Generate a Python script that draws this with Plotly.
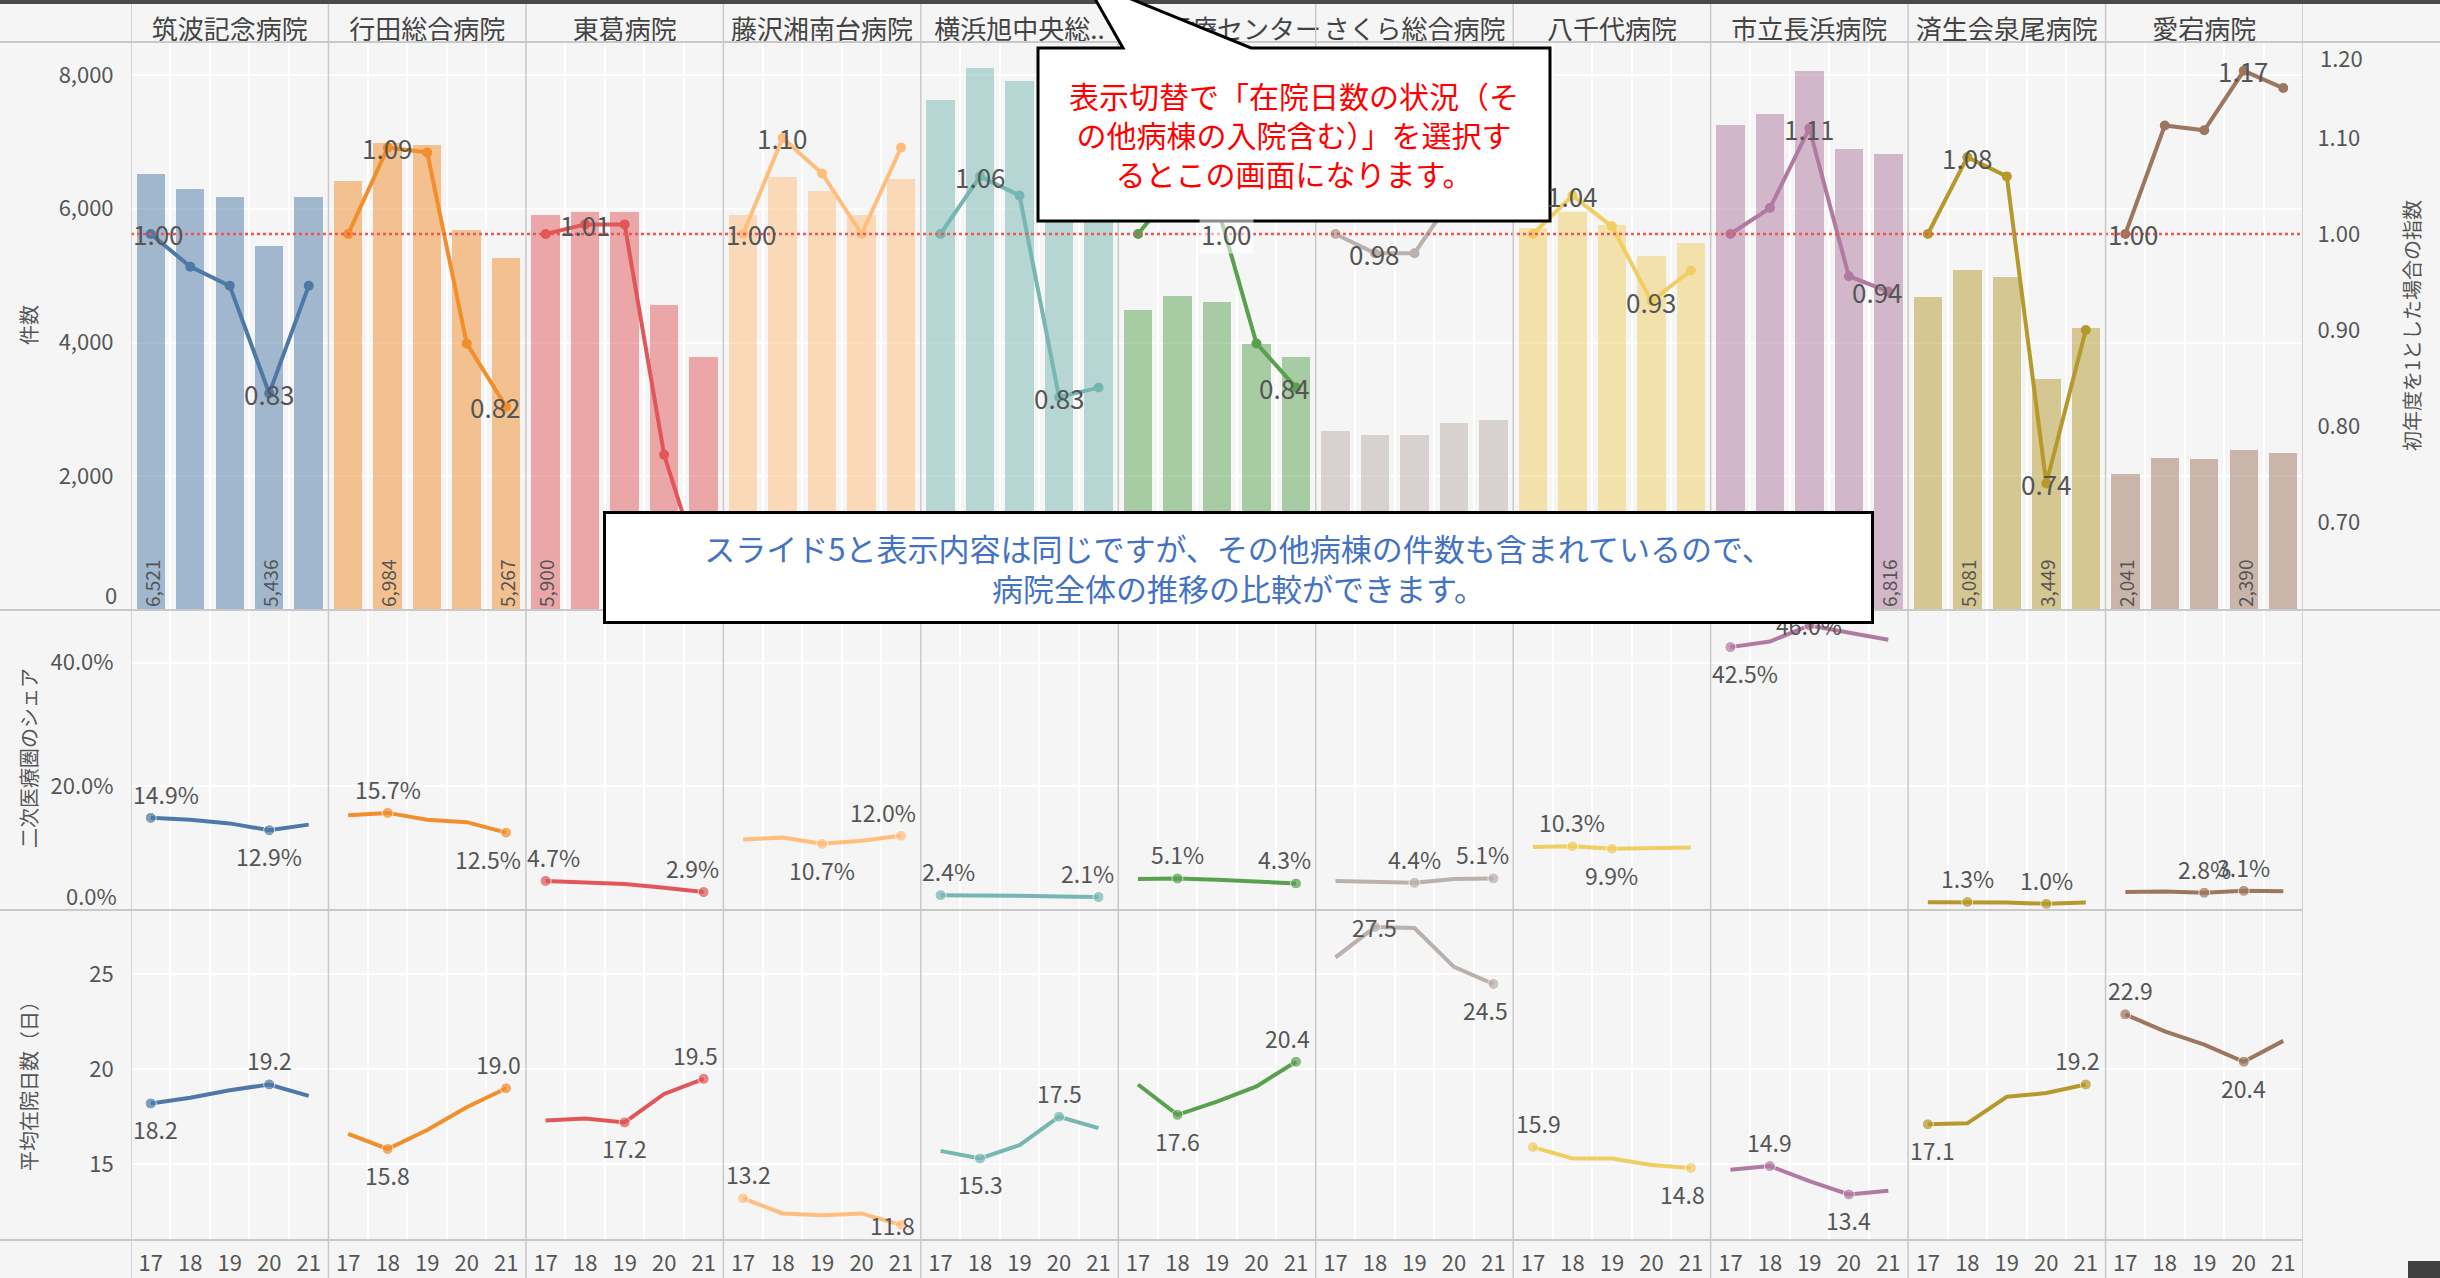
import plotly.graph_objects as go
from plotly.subplots import make_subplots

# ---------------- data ----------------
HOSPITALS = ["筑波記念病院", "行田総合病院", "東葛病院", "藤沢湘南台病院", "横浜旭中央総..",
             "横浜医療センター", "さくら総合病院", "八千代病院", "市立長浜病院", "済生会泉尾病院", "愛宕病院"]
YEARS = ["17", "18", "19", "20", "21"]
COLORS = ["#4E79A7", "#F28E2B", "#E15759", "#FFBE7D", "#76B7B2", "#59A14F",
          "#BAB0AC", "#F1CE63", "#B07AA1", "#B6992D", "#9D7660"]

# 件数 (bars)
CASES = [
    [6521, 6300, 6170, 5436, 6170],
    [6410, 6984, 6950, 5680, 5267],
    [5900, 5950, 5950, 4560, 3780],
    [5900, 6480, 6270, 5900, 6440],
    [7620, 8110, 7910, 6320, 6400],
    [4480, 4700, 4600, 3975, 3785],
    [2680, 2620, 2620, 2790, 2840],
    [5710, 5945, 5755, 5300, 5490],
    [7250, 7420, 8060, 6890, 6816],
    [4688, 5081, 4975, 3449, 4220],
    [2041, 2270, 2260, 2390, 2355],
]
# 初年度を1とした場合の指数 (line, right axis)
INDEX = [
    [1.00, 0.966, 0.946, 0.834, 0.946],
    [1.00, 1.09, 1.085, 0.886, 0.82],
    [1.00, 1.01, 1.01, 0.77, 0.64],
    [1.00, 1.10, 1.063, 1.00, 1.09],
    [1.00, 1.06, 1.04, 0.83, 0.84],
    [1.00, 1.05, 1.03, 0.886, 0.84],
    [1.00, 0.98, 0.98, 1.04, 1.06],
    [1.00, 1.04, 1.008, 0.93, 0.962],
    [1.00, 1.027, 1.11, 0.956, 0.94],
    [1.00, 1.08, 1.06, 0.74, 0.90],
    [1.00, 1.113, 1.108, 1.17, 1.152],
]
# 二次医療圏のシェア (%)
SHARE = [
    [14.9, 14.6, 14.0, 12.9, 13.8],
    [15.3, 15.7, 14.6, 14.2, 12.5],
    [4.7, 4.5, 4.2, 3.6, 2.9],
    [11.4, 11.7, 10.7, 11.2, 12.0],
    [2.4, 2.4, 2.3, 2.2, 2.1],
    [5.0, 5.1, 4.9, 4.6, 4.3],
    [4.7, 4.5, 4.4, 5.0, 5.1],
    [10.2, 10.3, 9.9, 10.0, 10.1],
    [42.5, 43.4, 46.0, 44.8, 43.7],
    [1.25, 1.3, 1.2, 1.0, 1.2],
    [2.9, 3.0, 2.8, 3.1, 3.05],
]
# 平均在院日数（日）
LOS = [
    [18.2, 18.5, 18.9, 19.2, 18.6],
    [16.6, 15.8, 16.8, 18.0, 19.0],
    [17.3, 17.4, 17.2, 18.7, 19.5],
    [13.2, 12.4, 12.3, 12.4, 11.8],
    [15.7, 15.3, 16.0, 17.5, 16.9],
    [19.2, 17.6, 18.3, 19.1, 20.4],
    [25.9, 27.5, 27.45, 25.4, 24.5],
    [15.9, 15.3, 15.3, 14.95, 14.8],
    [14.7, 14.9, 14.1, 13.4, 13.6],
    [17.1, 17.15, 18.55, 18.75, 19.2],
    [22.9, 22.0, 21.3, 20.4, 21.5],
]

# which points carry a value label: (year index, placement, extra x shift, background)
BAR_LABELS = [[0, 3], [1, 4], [0, 4], [1, 0], [1, 3], [1, 4], [4, 0], [1, 3], [2, 4], [1, 3], [0, 3]]
INDEX_LABELS = [
    [(0, "m"), (3, "m")], [(1, "m"), (4, "m")], [(1, "m")], [(0, "m"), (1, "m")],
    [(1, "m"), (3, "m")], [(0, "m", 80, True), (4, "m")], [(1, "m")], [(1, "m"), (3, "m")],
    [(2, "m"), (4, "m")], [(1, "m"), (3, "m")], [(0, "m"), (3, "m")],
]
SHARE_LABELS = [
    [(0, "a"), (3, "b")], [(1, "a"), (4, "b")], [(0, "a"), (4, "a")], [(2, "b"), (4, "a")],
    [(0, "a"), (4, "a")], [(1, "a"), (4, "a")], [(2, "a"), (4, "a")], [(1, "a"), (2, "b")],
    [(0, "b"), (2, "m")], [(1, "a"), (3, "a")], [(2, "a"), (3, "a")],
]
LOS_LABELS = [
    [(0, "b"), (3, "a")], [(1, "b"), (4, "a")], [(2, "b"), (4, "a")], [(0, "a"), (4, "m")],
    [(1, "b"), (3, "a")], [(1, "b"), (4, "a")], [(1, "m"), (4, "b")], [(0, "a"), (4, "b")],
    [(1, "a"), (3, "b")], [(0, "b"), (4, "a")], [(0, "a"), (3, "b")],
]

CASE_TICKS = [0, 2000, 4000, 6000, 8000]
INDEX_TICKS = [0.70, 0.80, 0.90, 1.00, 1.10, 1.20]
SHARE_TICKS = [0, 20, 40]
LOS_TICKS = [15, 20, 25]

CALLOUT_1 = "表示切替で「在院日数の状況（そ<br>の他病棟の入院含む）」を選択す<br>るとこの画面になります。"
CALLOUT_2 = "スライド5と表示内容は同じですが、その他病棟の件数も含まれているので、<br>病院全体の推移の比較ができます。"

# ---------------- layout constants ----------------
W, H = 2440, 1278
ML, MR, MT, MB = 131, 137, 42, 38
PW, PH = W - ML - MR, H - MT - MB
NP = len(HOSPITALS)
NY = len(YEARS)
UNIT = PW / (NP * NY)
FONT = "Noto Sans CJK JP, Noto Sans, sans-serif"
BG = "#F5F5F5"
TXT = "#555555"
SEP = "#C9C9C9"


def px_x(px):
    return (px - ML) / PW


def px_y(py):
    return (H - MB - py) / PH


def rgba(hex_color, a):
    h = hex_color.lstrip("#")
    return "rgba(%d,%d,%d,%.2f)" % (int(h[0:2], 16), int(h[2:4], 16), int(h[4:6], 16), a)


fig = make_subplots(rows=3, cols=1, shared_xaxes=True, vertical_spacing=0,
                    row_heights=[568, 300, 330],
                    specs=[[{"secondary_y": True}], [{}], [{}]])

annotations = []


def est_w(txt, fs):
    nd = sum(c.isdigit() for c in txt)
    npn = sum(c in ".," for c in txt)
    npc = txt.count("%")
    return fs * (0.572 * nd + 0.27 * npn + 0.85 * npc)


def add_label(xref, yref, xv, yv, txt, j, pos, fs, dx=0, bg=False):
    w = est_w(txt, fs)
    if j == 0:
        xs = max(0.0, w / 2 - UNIT / 2 + 2)
    elif j == NY - 1:
        xs = -max(0.0, w / 2 - UNIT / 2 + 5)
    else:
        xs = 0.0
    xs += dx
    if pos == "a":
        ya, ys = "bottom", 5
    elif pos == "b":
        ya, ys = "top", -7
    else:
        ya, ys = "middle", 0
    ann = dict(x=xv, y=yv, xref=xref, yref=yref, text=txt, showarrow=False,
               xanchor="center", yanchor=ya, xshift=xs, yshift=ys,
               font=dict(size=fs, color=TXT, family=FONT))
    if bg:
        ann["bgcolor"] = "rgba(255,255,255,0.55)"
    annotations.append(ann)


for i, name in enumerate(HOSPITALS):
    xs = [i * NY + j for j in range(NY)]
    col = COLORS[i]
    bar_text = [f"{v:,}" if j in BAR_LABELS[i] else "" for j, v in enumerate(CASES[i])]
    fig.add_trace(go.Bar(
        x=xs, y=CASES[i], width=0.72,
        marker=dict(color=rgba(col, 0.5), line=dict(width=0)),
        text=bar_text, textposition="inside", insidetextanchor="start",
        textangle=-90, constraintext="none",
        textfont=dict(size=19, color=TXT, family=FONT),
        hoverinfo="skip", showlegend=False), row=1, col=1, secondary_y=False)

    fig.add_trace(go.Scatter(
        x=xs, y=INDEX[i], mode="lines+markers",
        line=dict(color=col, width=4), marker=dict(size=10, color=col),
        hoverinfo="skip", showlegend=False), row=1, col=1, secondary_y=True)

    sh_idx = [lab[0] for lab in SHARE_LABELS[i]]
    fig.add_trace(go.Scatter(
        x=xs, y=SHARE[i], mode="lines+markers",
        line=dict(color=col, width=4),
        marker=dict(size=[11 if j in sh_idx else 0 for j in range(NY)], color=col),
        hoverinfo="skip", showlegend=False), row=2, col=1)

    los_idx = [lab[0] for lab in LOS_LABELS[i]]
    fig.add_trace(go.Scatter(
        x=xs, y=LOS[i], mode="lines+markers",
        line=dict(color=col, width=4),
        marker=dict(size=[11 if j in los_idx else 0 for j in range(NY)], color=col),
        hoverinfo="skip", showlegend=False), row=3, col=1)

    for lab in INDEX_LABELS[i]:
        j, pos = lab[0], lab[1]
        dx = lab[2] if len(lab) > 2 else 0
        bg = lab[3] if len(lab) > 3 else False
        add_label("x", "y2", xs[j], INDEX[i][0] if bg else INDEX[i][j],
                  f"{(INDEX[i][j]):.2f}", j, pos, 26, dx, bg)
    for j, pos in SHARE_LABELS[i]:
        add_label("x2", "y3", xs[j], SHARE[i][j], f"{SHARE[i][j]:.1f}%", j, pos, 23)
    for j, pos in LOS_LABELS[i]:
        add_label("x3", "y4", xs[j], LOS[i][j], f"{LOS[i][j]:.1f}", j, pos, 23)

# ---------------- axes ----------------
minor_vals = [i * NY + j + 0.5 for i in range(NP) for j in range(NY - 1)]
fig.update_xaxes(domain=[0, 1], range=[-0.5, NP * NY - 0.5], showgrid=False, zeroline=False,
                 showline=False, tickangle=0, fixedrange=True, automargin=False,
                 minor=dict(tickmode="array", tickvals=minor_vals, showgrid=True,
                            gridcolor="white", gridwidth=1.5, ticks=""))
fig.update_xaxes(row=3, col=1, tickmode="array", tickvals=list(range(NP * NY)),
                 ticktext=YEARS * NP, showticklabels=True, ticks="outside", ticklen=4,
                 tickcolor="rgba(0,0,0,0)", tickfont=dict(size=22, color=TXT, family=FONT))
fig.update_xaxes(row=1, col=1, side="top", tickmode="array",
                 tickvals=[i * NY + (NY - 1) / 2 for i in range(NP)], ticktext=HOSPITALS,
                 showticklabels=True, ticks="", ticklabelstandoff=-3,
                 tickfont=dict(size=26, color="#444444", family=FONT))

grid = dict(showgrid=True, gridcolor="white", gridwidth=1.5, zeroline=False, showline=False,
            ticks="outside", tickcolor="rgba(0,0,0,0)", ticklen=12, automargin=False,
            tickfont=dict(size=22, color=TXT, family=FONT), fixedrange=True)


def tick_text(vals, fmt, hide_first=False, hide_last=False):
    out = [fmt(v) for v in vals]
    if hide_first:
        out[0] = ""
    if hide_last:
        out[-1] = ""
    return out


fig.update_yaxes(row=1, col=1, secondary_y=False, range=[0, 8494], tickmode="array",
                 tickvals=CASE_TICKS, ticktext=tick_text(CASE_TICKS, lambda v: f"{v:,}", True), **grid)
fig.update_yaxes(row=1, col=1, secondary_y=True, range=[0.6083, 1.20], tickmode="array",
                 tickvals=INDEX_TICKS,
                 ticktext=tick_text(INDEX_TICKS, lambda v: f"{v:.2f}", False, True),
                 showgrid=False, zeroline=False, showline=False, ticks="outside",
                 tickcolor="rgba(0,0,0,0)", ticklen=9, automargin=False,
                 tickfont=dict(size=22, color=TXT, family=FONT), fixedrange=True)
fig.update_yaxes(row=2, col=1, range=[0, 48.5], tickmode="array", tickvals=SHARE_TICKS,
                 ticktext=tick_text(SHARE_TICKS, lambda v: f"{v:.1f}%", True), **grid)
fig.update_yaxes(row=3, col=1, range=[11.0, 28.4], tickmode="array", tickvals=LOS_TICKS,
                 ticktext=[str(v) for v in LOS_TICKS], **grid)

# edge tick labels nudged inside the pane (as the reference does)
annotations.append(dict(x=px_x(119), y=CASE_TICKS[0], xref="paper", yref="y", text=f"{CASE_TICKS[0]:,}",
                        showarrow=False, xanchor="right", yanchor="middle", yshift=16,
                        font=dict(size=22, color=TXT, family=FONT)))
annotations.append(dict(x=px_x(119), y=SHARE_TICKS[0], xref="paper", yref="y3",
                        text=f"{SHARE_TICKS[0]:.1f}%", showarrow=False, xanchor="right",
                        yanchor="middle", yshift=15, font=dict(size=22, color=TXT, family=FONT)))
annotations.append(dict(x=px_x(2318), y=INDEX_TICKS[-1], xref="paper", yref="y2",
                        text=f"{INDEX_TICKS[-1]:.2f}", showarrow=False, xanchor="left",
                        yanchor="middle", yshift=-15, font=dict(size=22, color=TXT, family=FONT)))

# ---------------- shapes ----------------
shapes = []
# reference line at index 1.00
shapes.append(dict(type="line", xref="x", yref="y2", x0=-0.5, x1=NP * NY - 0.5, y0=1.0, y1=1.0,
                   line=dict(color="#EE5555", width=2.5, dash="dot"), layer="above"))
# panel separators
for i in range(NP + 1):
    shapes.append(dict(type="line", xref="x", yref="paper", x0=i * NY - 0.5, x1=i * NY - 0.5,
                       y0=px_y(H), y1=px_y(4), line=dict(color=SEP, width=1.5), layer="above"))
for py, xr in [(MT, px_x(W)), (610, px_x(W)), (910, 1.0), (H - MB, 1.0)]:
    shapes.append(dict(type="line", xref="paper", yref="paper", x0=px_x(0), x1=xr,
                       y0=px_y(py), y1=px_y(py), line=dict(color=SEP, width=2), layer="above"))
# dark top band and corner block
shapes.append(dict(type="rect", xref="paper", yref="paper", x0=px_x(0), x1=px_x(W),
                   y0=px_y(4), y1=px_y(-2), fillcolor="#4A4A4A", line=dict(width=0), layer="above"))
shapes.append(dict(type="rect", xref="paper", yref="paper", x0=px_x(2408), x1=px_x(W + 2),
                   y0=px_y(H + 2), y1=px_y(1261), fillcolor="#404040", line=dict(width=0),
                   layer="above"))
# speech bubble (callout 1)
pts = [(1038, 48), (1123, 48), (1090, -10), (1109, -10), (1251, 48), (1550, 48), (1550, 221), (1038, 221)]
path = "M " + " L ".join(f"{px_x(a):.5f},{px_y(b):.5f}" for a, b in pts) + " Z"
shapes.append(dict(type="path", xref="paper", yref="paper", path=path, fillcolor="white",
                   line=dict(color="black", width=3), layer="above"))

# ---------------- texts ----------------
annotations.append(dict(x=px_x(28), y=px_y(325), xref="paper", yref="paper", text="件数",
                        textangle=-90, showarrow=False, xanchor="center", yanchor="middle",
                        font=dict(size=20, color=TXT, family=FONT)))
annotations.append(dict(x=px_x(28), y=px_y(758), xref="paper", yref="paper", text="二次医療圏のシェア",
                        textangle=-90, showarrow=False, xanchor="center", yanchor="middle",
                        font=dict(size=20, color=TXT, family=FONT)))
annotations.append(dict(x=px_x(28), y=px_y(1081), xref="paper", yref="paper", text="平均在院日数（日）",
                        textangle=-90, showarrow=False, xanchor="center", yanchor="middle",
                        font=dict(size=20, color=TXT, family=FONT)))
annotations.append(dict(x=px_x(2411), y=px_y(326), xref="paper", yref="paper",
                        text="初年度を1とした場合の指数", textangle=-90, showarrow=False,
                        xanchor="center", yanchor="middle", font=dict(size=20, color=TXT, family=FONT)))
annotations.append(dict(x=px_x(1294), y=px_y(134), xref="paper", yref="paper", text=CALLOUT_1,
                        showarrow=False, xanchor="center", yanchor="middle", align="center",
                        font=dict(size=30, color="#FF0000", family=FONT)))
annotations.append(dict(x=px_x(1238), y=px_y(567), xref="paper", yref="paper", text=CALLOUT_2,
                        showarrow=False, xanchor="center", yanchor="middle", align="center",
                        width=1265, height=107, bgcolor="white", bordercolor="black",
                        borderwidth=3, borderpad=0,
                        font=dict(size=31, color="#4472C4", family=FONT)))

fig.update_layout(width=W, height=H, margin=dict(l=ML, r=MR, t=MT, b=MB, pad=0, autoexpand=False),
                  paper_bgcolor=BG, plot_bgcolor=BG, barmode="overlay", bargap=0,
                  font=dict(family=FONT, color=TXT), hovermode=False, showlegend=False,
                  shapes=shapes, annotations=annotations)

fig.write_html("out.html", config={"displayModeBar": False},
               post_script="document.body.style.margin='0';document.body.style.overflow='hidden';")
